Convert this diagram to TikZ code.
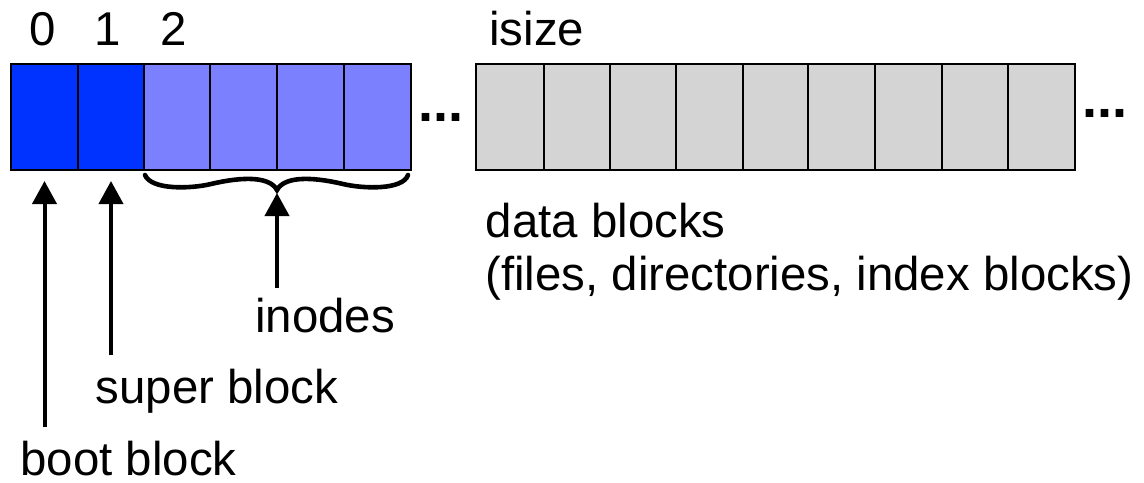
\documentclass[tikz,border=0pt]{standalone}
\usepackage{fontspec}
\setmainfont{Liberation Sans}
\usetikzlibrary{arrows.meta}
\definecolor{dblue}{RGB}{0,51,255}
\definecolor{lblue}{RGB}{123,128,255}
\definecolor{cgray}{RGB}{212,212,212}
\begin{document}
\begin{tikzpicture}[x=0.5pt,y=-0.5pt,
  cell/.style={draw=black,line width=1pt,inner sep=0pt,minimum height=53pt},
  lbl/.style={font=\fontsize{23.7}{28}\selectfont,inner sep=0pt,anchor=base west},
  dig/.style={font=\fontsize{23.7}{28}\selectfont,inner sep=0pt,anchor=base},
  dotsty/.style={font=\fontsize{27}{30}\selectfont\bfseries,inner sep=0pt,anchor=base west},
  arr/.style={line width=2pt,-{Triangle[length=11.5pt,width=12pt]}},
  bracesty/.style={line width=2.3pt,line cap=round}]
\useasboundingbox (0,0) rectangle (1144,482);
% blue cells
\foreach \a/\b/\n/\c in {11/78/c0/dblue,78/144/c1/dblue,144/210/c2/lblue,210/277/c3/lblue,277/344/c4/lblue,344/411/c5/lblue}{
  \node[cell,fill=\c,minimum width={(\b-\a)*0.5pt}] (\n) at ({(\a+\b)/2},117) {};
}
% gray cells
\foreach \a/\b/\n in {476/544/g0,544/610/g1,610/676/g2,676/743/g3,743/808/g4,808/875/g5,875/942/g6,942/1008/g7,1008/1075/g8}{
  \node[cell,fill=cgray,minimum width={(\b-\a)*0.5pt}] (\n) at ({(\a+\b)/2},117) {};
}
% ellipses
\node[dotsty] (dl) at (418,121) {...};
\node[dotsty] (dr) at (1082,117) {...};
% top labels
\node[dig] (n0) at (43,45) {0};
\node[dig] (n1) at (108,45) {1};
\node[dig] (n2) at (174,45) {2};
\node[lbl] (isz) at (489,45) {isize};
% brace
\coordinate (bracetip) at (277,190);
\draw[bracesty] (145,175) .. controls (151,190) and (190,189) .. (211,184)
  .. controls (245,176) and (270,177) .. (bracetip)
  .. controls (284,177) and (309,176) .. (343,184)
  .. controls (364,189) and (403,190) .. (408,175);
% labels
\node[lbl] (dblk) at (485.5,237) {data blocks};
\node[lbl] (dfil) at (485,290) {(files, directories, index blocks)};
\node[lbl] (ino) at (255,332) {inodes};
\node[lbl] (sup) at (95.5,403) {super block};
\node[lbl] (boot) at (20,475) {boot block};
% arrows
\coordinate (t0) at (44.5,427);
\coordinate (t1) at (111,355);
\coordinate (t2) at (277,288);
\draw[arr] (t0) -- ([yshift=-5pt]c0.south);
\draw[arr] (t1) -- ([yshift=-5pt]c1.south);
\draw[arr] (t2) -- ([yshift=-1.5pt]bracetip);
\end{tikzpicture}
\end{document}
